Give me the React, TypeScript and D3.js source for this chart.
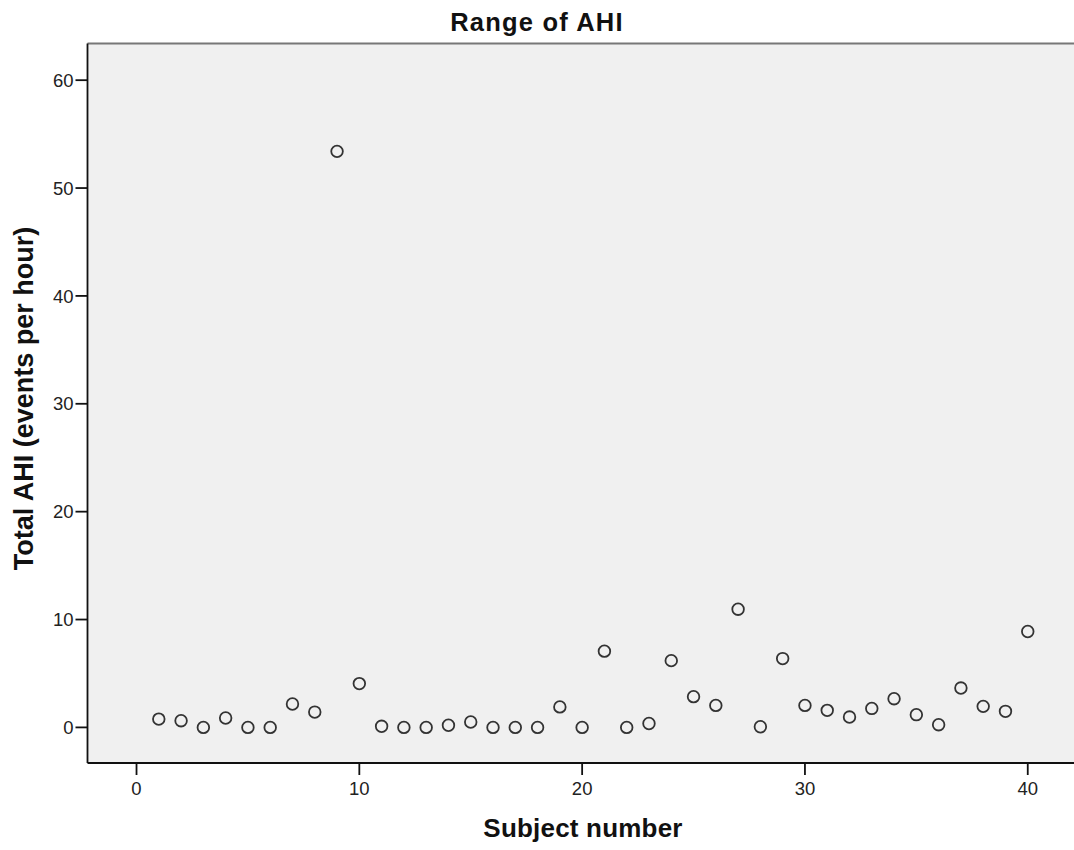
import React from "react";
import * as d3 from "d3";

const subjects = [1,2,3,4,5,6,7,8,9,10,11,12,13,14,15,16,17,18,19,20,21,22,23,24,25,26,27,28,29,30,31,32,33,34,35,36,37,38,39,40];
const ahi = [0.77,0.62,0,0.87,0,0,2.17,1.42,53.4,4.06,0.1,0,0,0.2,0.5,0,0,0,1.9,0,7.07,0,0.36,6.19,2.85,2.04,10.96,0.06,6.38,2.04,1.58,0.96,1.76,2.66,1.18,0.25,3.65,1.95,1.49,8.89];
const xTicks = [0,10,20,30,40];
const yTicks = [0,10,20,30,40,50,60];

const W = 1074, H = 850;
const L = 87.5, R = 1079, T = 43.5, B = 763;
const FONT = "'Liberation Sans', Arial, sans-serif";

export default function App() {
  const x = d3.scaleLinear().domain([-2.2, 42.3]).range([L, R]);
  const y = d3.scaleLinear().domain([-3.3, 63.4]).range([B, T]);
  return (
    <svg width={W} height={H} style={{ position: "absolute", left: 0, top: 0 }} fontFamily={FONT}>
      <rect x={0} y={0} width={W} height={H} fill="#fff" />
      <rect x={L} y={T} width={R - L} height={B - T} fill="#f0f0f0" />
      <line x1={L} x2={R} y1={T} y2={T} stroke="#777" strokeWidth={2} />
      <line x1={L} x2={L} y1={T} y2={B} stroke="#111" strokeWidth={1.8} />
      <line x1={L} x2={R} y1={B} y2={B} stroke="#111" strokeWidth={1.8} />
      {yTicks.map(t => (
        <g key={"y" + t}>
          <line x1={L - 12} x2={L} y1={y(t)} y2={y(t)} stroke="#111" strokeWidth={1.8} />
          <text x={L - 14} y={y(t)} dy="0.36em" textAnchor="end" fontSize={18.5} fill="#222">{t}</text>
        </g>
      ))}
      {xTicks.map(t => (
        <g key={"x" + t}>
          <line x1={x(t)} x2={x(t)} y1={B} y2={B + 12} stroke="#111" strokeWidth={1.8} />
          <text x={x(t)} y={795} textAnchor="middle" fontSize={18.5} fill="#222">{t}</text>
        </g>
      ))}
      {subjects.map((s, i) => (
        <circle key={s} cx={x(s)} cy={y(ahi[i])} r={5.8} fill="none" stroke="#333" strokeWidth={1.8} />
      ))}
      <text x={537} y={30.5} textAnchor="middle" fontSize={25.5} letterSpacing={1.2} fontWeight="bold" fill="#111">Range of AHI</text>
      <text x={583} y={837} textAnchor="middle" fontSize={26} letterSpacing={0.2} fontWeight="bold" fill="#111">Subject number</text>
      <text transform={`translate(33,398.5) rotate(-90)`} textAnchor="middle" fontSize={27} fontWeight="bold" fill="#111">Total AHI (events per hour)</text>
    </svg>
  );
}
